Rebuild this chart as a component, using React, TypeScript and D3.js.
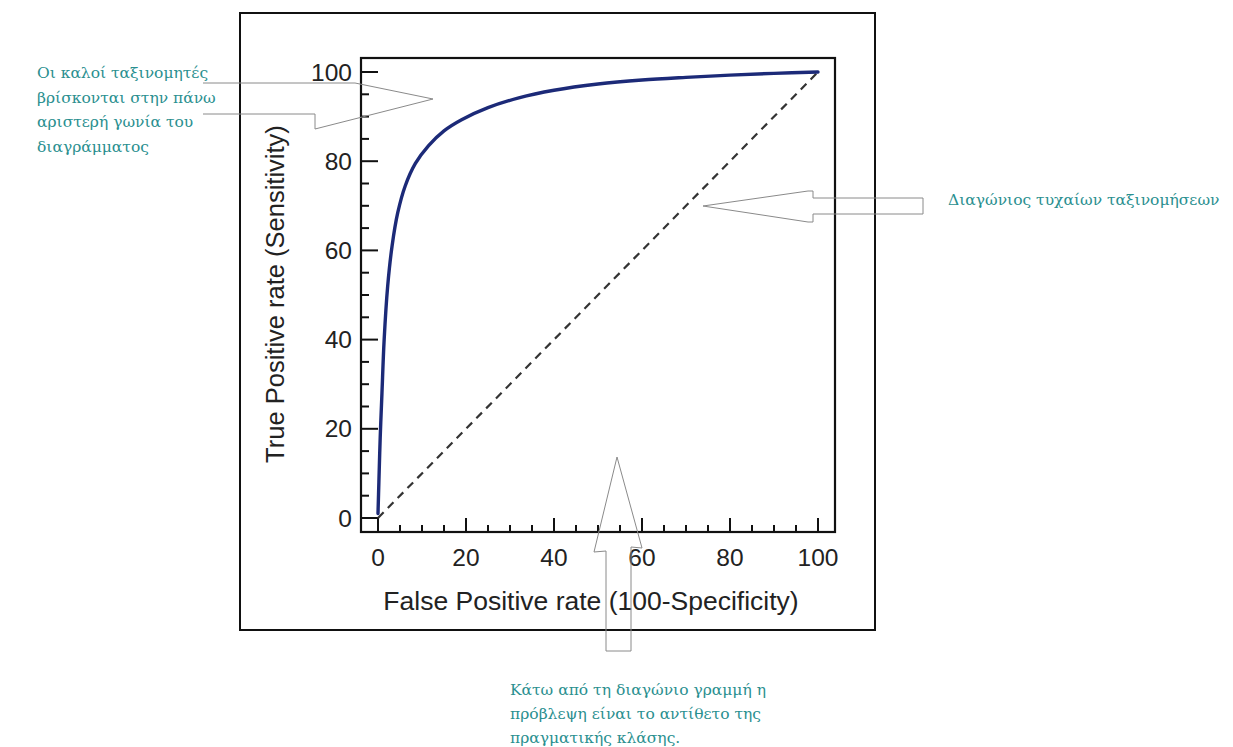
import React from "react";
import * as d3 from "d3";

// ROC curve (False positive rate vs true positive rate, in %)
const rocFpr = [0, 0.2, 0.5, 0.9, 1.4, 2.2, 3.2, 4.5, 6.2, 8.5, 11.5, 15, 19, 25, 32, 40, 50, 60, 70, 80, 90, 100];
const rocTpr = [1, 8, 18, 28, 40, 52, 61, 68.5, 74.5, 79.5, 83.5, 86.8, 89.3, 92, 94.2, 95.9, 97.3, 98.2, 98.8, 99.3, 99.7, 100];
// Random-classifier diagonal
const diagFpr = [0, 100];
const diagTpr = [0, 100];

const xMajorTicks = [0, 20, 40, 60, 80, 100];
const yMajorTicks = [0, 20, 40, 60, 80, 100];
const minorTicks = d3.range(0, 101, 5);

const xTitle = "False Positive rate (100-Specificity)";
const yTitle = "True Positive rate (Sensitivity)";

const noteTopLeft = ["Οι καλοί ταξινομητές", "βρίσκονται στην πάνω", "αριστερή γωνία του", "διαγράμματος"];
const noteRight = ["Διαγώνιος τυχαίων ταξινομήσεων"];
const noteBottom = ["Κάτω από τη διαγώνιο γραμμή η", "πρόβλεψη είναι το αντίθετο της", "πραγματικής κλάσης."];

export default function App() {
  const W = 1233, H = 747;
  const x = d3.scaleLinear().domain([0, 100]).range([378, 818]);
  const y = d3.scaleLinear().domain([0, 100]).range([518, 72]);

  const boxL = x(0) - 17, boxR = x(100) + 17, boxT = y(100) - 14, boxB = y(0) + 14;

  const line = d3.line<[number, number]>().x(d => x(d[0])).y(d => y(d[1])).curve(d3.curveCatmullRom.alpha(0.5));
  const rocPts: [number, number][] = rocFpr.map((f, i) => [f, rocTpr[i]]);
  const diagPts: [number, number][] = diagFpr.map((f, i) => [f, diagTpr[i]]);

  const sans = "'Liberation Sans', Arial, sans-serif";
  const serif = "'DejaVu Serif', 'Liberation Serif', serif";
  const teal = "#2a8f8f";
  const arrowStroke = "#8a8a8a";

  // annotation block arrows (outline shapes)
  const arrowTL = "M203,83 L355,83 L433,99 L315,129 L315,114 L203,114";
  const arrowR = "M703,206 L808,191 L813,191 L813,198 L923,198 L923,214 L813,214 L813,222 L808,222 Z";
  const arrowB = "M617,457 L642,548 L631,547 L631,651 L606,651 L606,551 L594,552 Z";

  return (
    <svg width={W} height={H} style={{ position: "absolute", left: 0, top: 0, background: "#fff" }}>
      <rect x={0} y={0} width={W} height={H} fill="#fff" />
      {/* outer frame */}
      <rect x={240} y={13} width={635} height={617} fill="none" stroke="#111" strokeWidth={2} />
      {/* plot box */}
      <rect x={boxL} y={boxT} width={boxR - boxL} height={boxB - boxT} fill="none" stroke="#111" strokeWidth={2.2} />

      {/* x ticks */}
      {minorTicks.map(t => {
        const major = xMajorTicks.includes(t);
        return <line key={"xt" + t} x1={x(t)} x2={x(t)} y1={boxB} y2={boxB - (major ? 14 : 7)} stroke="#111" strokeWidth={2} />;
      })}
      {/* y ticks */}
      {minorTicks.map(t => {
        const major = yMajorTicks.includes(t);
        return <line key={"yt" + t} x1={boxL} x2={boxL + (major ? 17 : 8)} y1={y(t)} y2={y(t)} stroke="#111" strokeWidth={2} />;
      })}
      {xMajorTicks.map(t => (
        <text key={"xl" + t} x={x(t)} y={boxB + 34} textAnchor="middle" fontFamily={sans} fontSize={24.5} fill="#222">{t}</text>
      ))}
      {yMajorTicks.map(t => (
        <text key={"yl" + t} x={boxL - 9} y={y(t) + 8.5} textAnchor="end" fontFamily={sans} fontSize={24.5} fill="#222">{t}</text>
      ))}
      <text x={591} y={610} textAnchor="middle" fontFamily={sans} fontSize={26.5} fill="#222">{xTitle}</text>
      <text transform={`translate(284,294) rotate(-90)`} textAnchor="middle" fontFamily={sans} fontSize={25.5} fill="#222">{yTitle}</text>

      {/* diagonal */}
      <path d={line(diagPts) || ""} fill="none" stroke="#333" strokeWidth={2.2} strokeDasharray="8,6" />
      {/* ROC curve */}
      <path d={line(rocPts) || ""} fill="none" stroke="#1c2a78" strokeWidth={3.4} strokeLinecap="round" strokeLinejoin="round" />

      {/* annotation arrows */}
      <path d={arrowTL} fill="none" stroke={arrowStroke} strokeWidth={1} />
      <path d={arrowR} fill="none" stroke={arrowStroke} strokeWidth={1} />
      <path d={arrowB} fill="none" stroke={arrowStroke} strokeWidth={1} />

      {/* notes */}
      {noteTopLeft.map((s, i) => (
        <text key={"n1" + i} x={37} y={78 + i * 24.5} fontFamily={serif} fontSize={15.5} fill={teal}>{s}</text>
      ))}
      {noteRight.map((s, i) => (
        <text key={"n2" + i} x={948} y={205 + i * 24} fontFamily={serif} fontSize={15.5} fill={teal}>{s}</text>
      ))}
      {noteBottom.map((s, i) => (
        <text key={"n3" + i} x={510} y={695 + i * 24} fontFamily={serif} fontSize={15.5} fill={teal}>{s}</text>
      ))}
    </svg>
  );
}
